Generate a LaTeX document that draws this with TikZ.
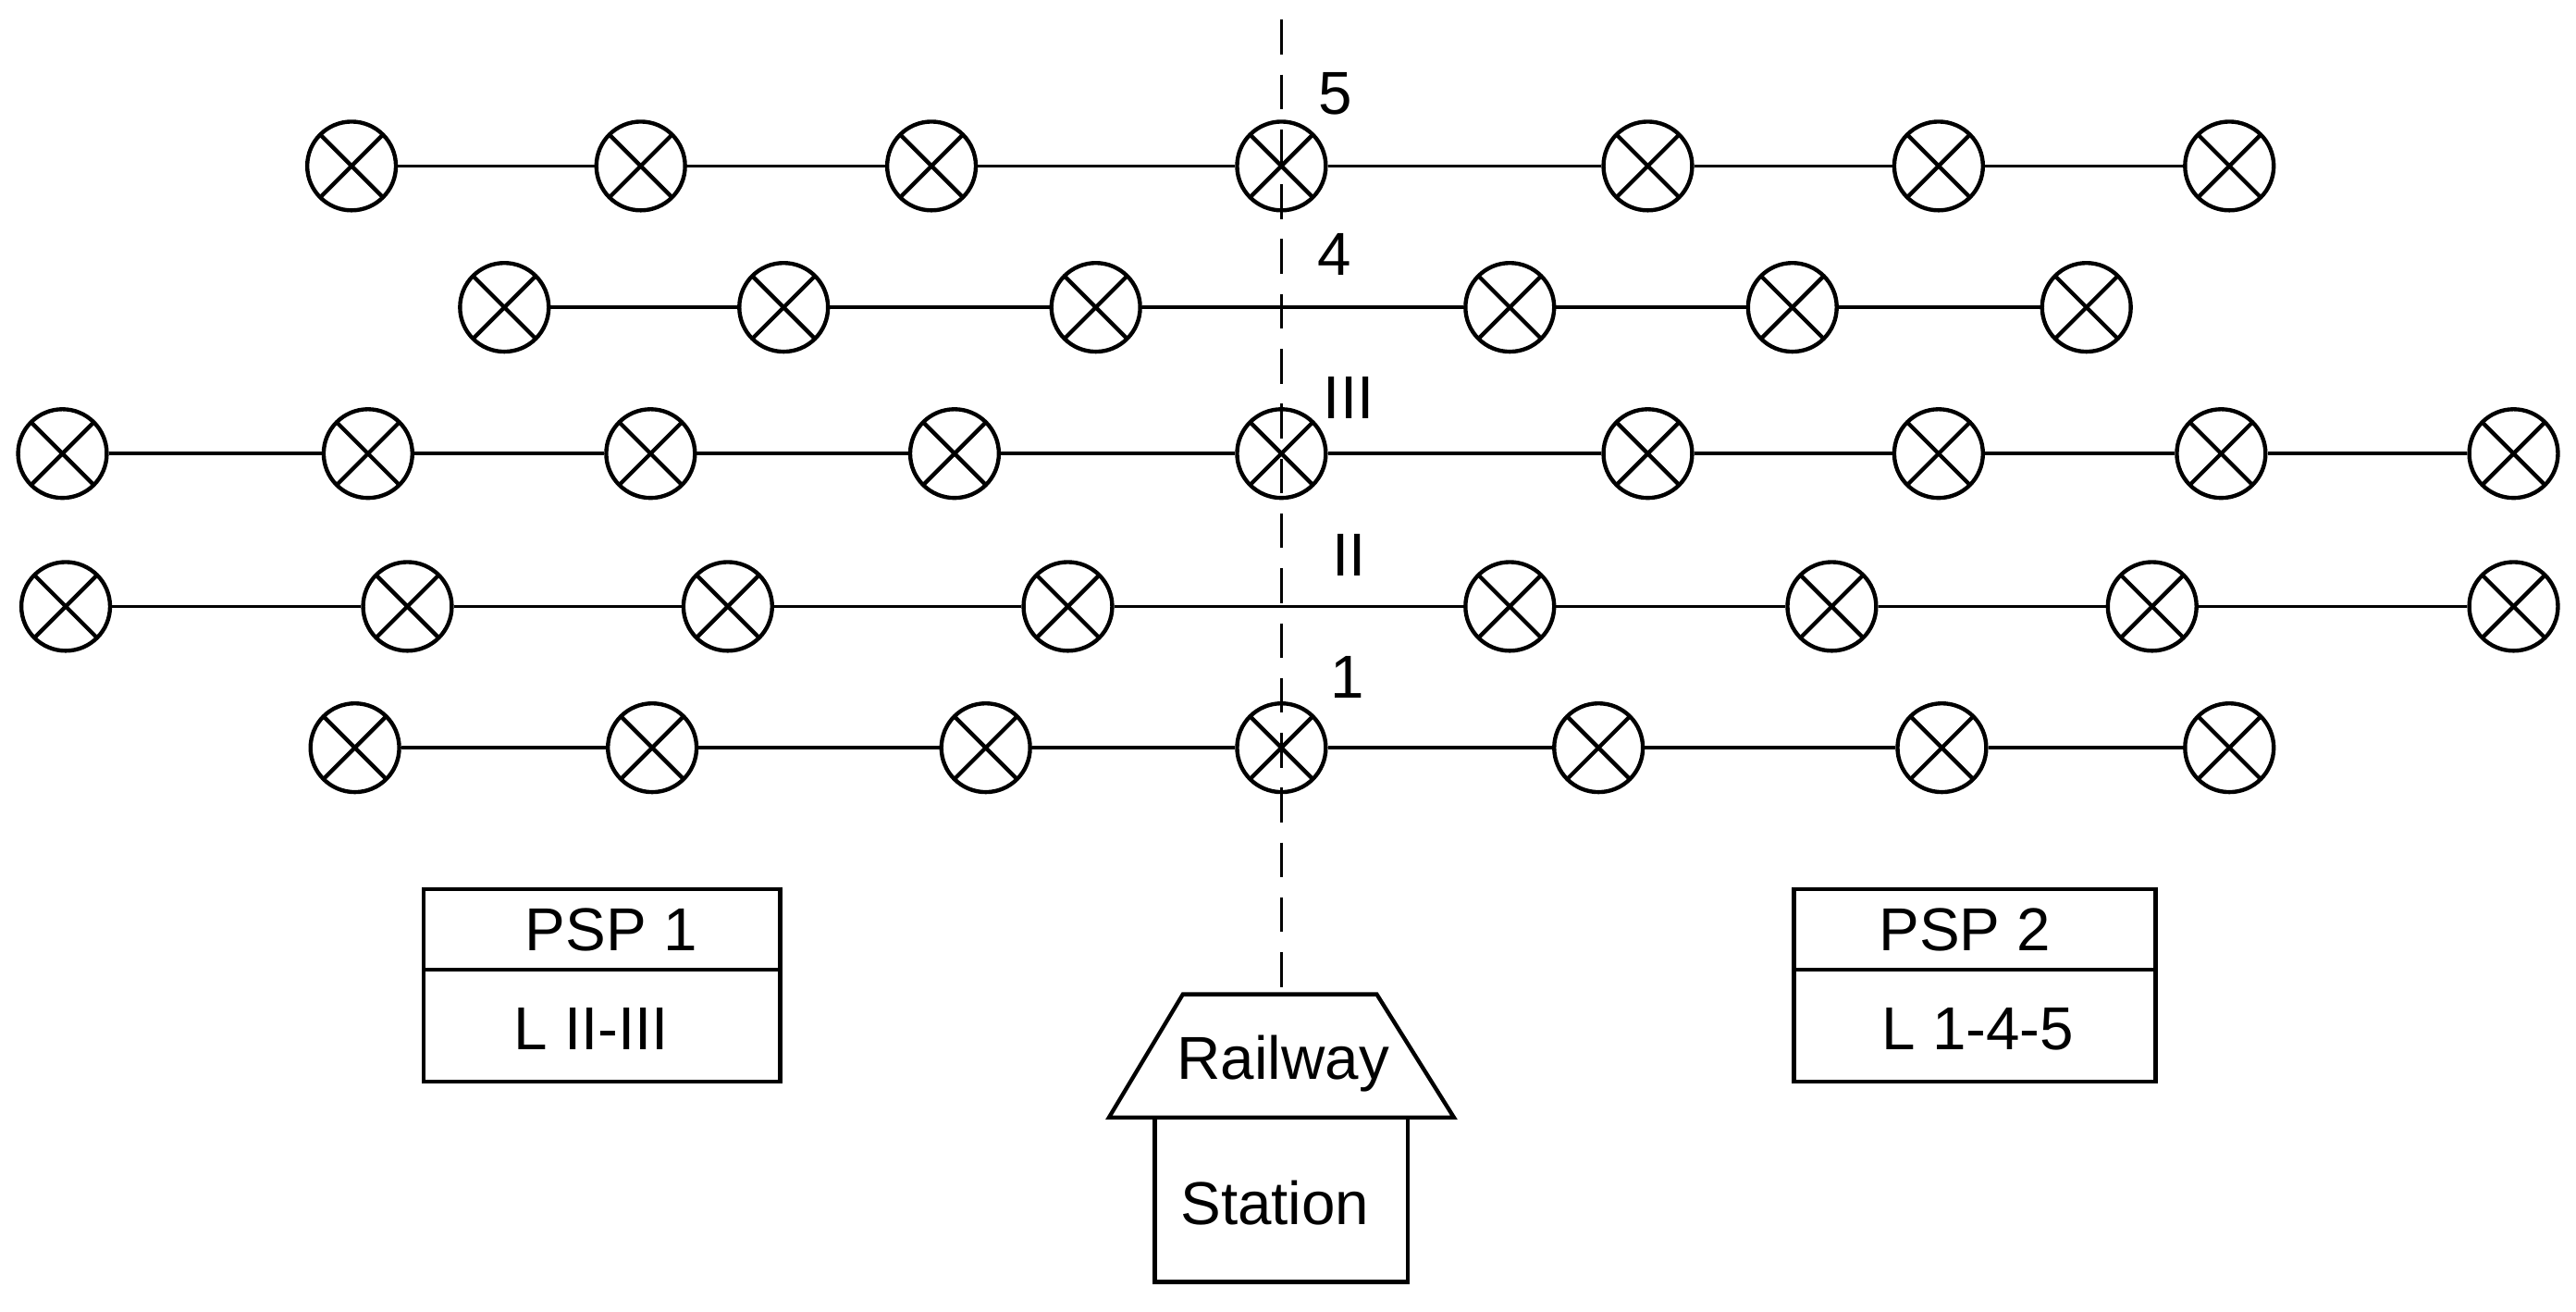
\documentclass[tikz,border=0pt]{standalone}
\usepackage{fontspec}
\setmainfont{Liberation Sans}
\begin{document}
\begin{tikzpicture}[x=0.02cm,y=-0.02cm,
  lamp/.style={circle,draw,line width=1.4pt,minimum size=1.08cm,inner sep=0pt,
    path picture={\draw[line width=1.4pt] (path picture bounding box.south west)--(path picture bounding box.north east)
      (path picture bounding box.north west)--(path picture bounding box.south east);}},
  wire/.style={line width=1.2pt},
  lbl/.style={font=\fontsize{21}{24}\selectfont},
  box/.style={draw,line width=1.4pt}]
\useasboundingbox (0,0) rectangle (1568,798);
\draw[wire,dash pattern=on 12pt off 7pt] (780,12) -- (780,605);
\foreach \r/\y/\xs in {5/101/{214,390,567,780,1003,1180,1357},
                       4/187/{307,477,667,919,1091,1270},
                       3/276/{38,224,396,581,780,1003,1180,1352,1530},
                       2/369/{40,248,443,650,919,1115,1310,1530},
                       1/455/{216,397,600,780,973,1182,1357}}{
  \foreach \x [count=\i] in \xs { \node[lamp] (r\r-\i) at (\x,\y) {}; }
}
\foreach \r/\n in {5/7,4/6,3/9,2/8,1/7}{
  \foreach \i [evaluate=\i as \j using int(\i+1)] in {1,...,\n}{
    \ifnum\i<\n \draw[wire] (r\r-\i) -- (r\r-\j);\fi
  }
}
\node[lbl] at (813,57) {5};
\node[lbl] at (812,155) {4};
\node[lbl] at (821,242) {III};
\node[lbl] at (821,338) {II};
\node[lbl] at (820,412) {1};
\draw[box] (258,541) rectangle (475,658); \draw[box] (258,590) -- (475,590);
\node[lbl] (p1) at (372,566) {PSP 1};
\node[lbl] (l1) at (360,626) {L II-III};
\draw[box] (1092,541) rectangle (1312,658); \draw[box] (1092,590) -- (1312,590);
\node[lbl] (p2) at (1196,566) {PSP 2};
\node[lbl] (l2) at (1204,626) {L 1-4-5};
\draw[box] (720,605) -- (838,605) -- (885,680) -- (675,680) -- cycle;
\draw[box] (703,680) rectangle (857,780);
\node[lbl] (rw) at (781,647) {Railway};
\node[lbl] (st) at (776,732) {Station};
\end{tikzpicture}
\end{document}
